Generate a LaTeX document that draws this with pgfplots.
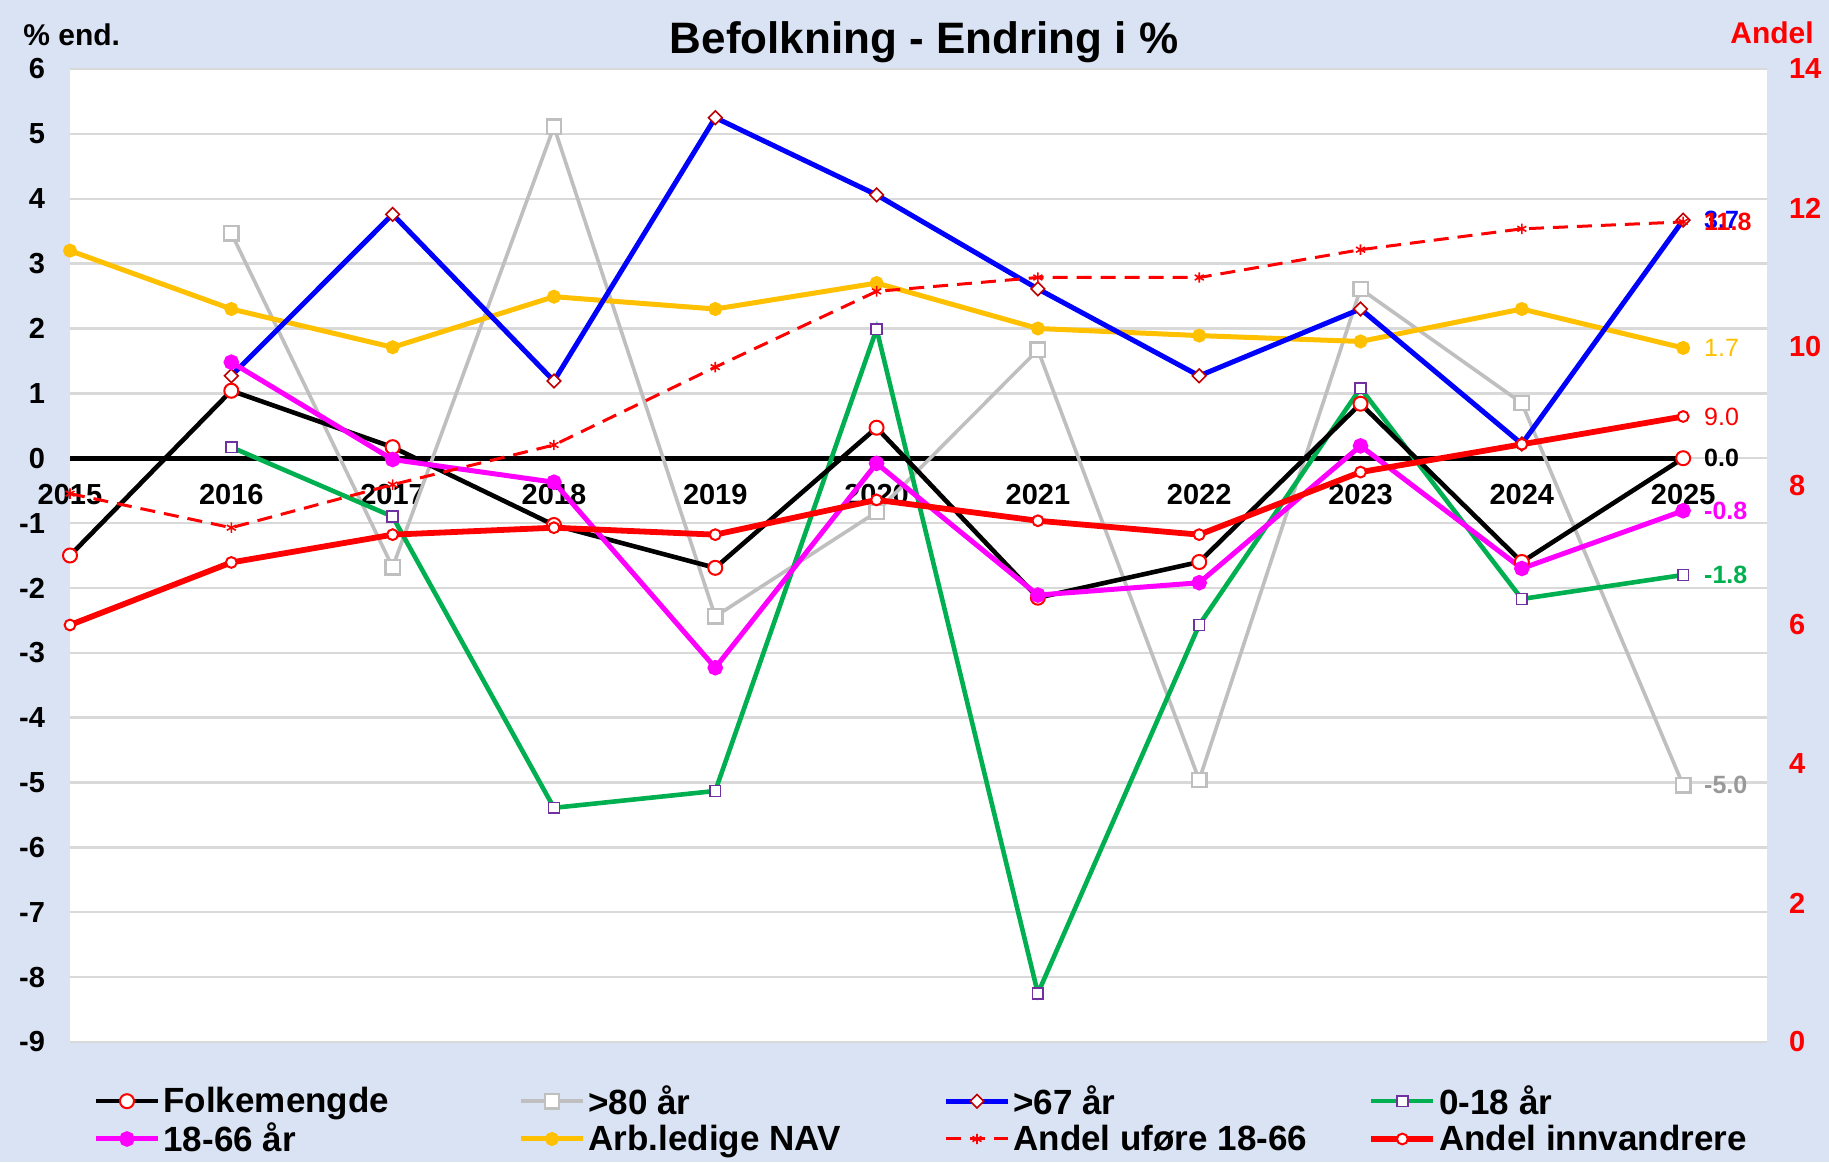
\documentclass[border=0pt]{standalone}
\usepackage{pgfplots}
\pgfplotsset{compat=1.18}
\usepackage{fontspec}
\setmainfont{Liberation Sans}
\definecolor{bgblue}{RGB}{218,227,243}
\definecolor{gridgray}{RGB}{217,217,217}
\definecolor{ggray}{RGB}{191,191,191}
\definecolor{gblue}{RGB}{0,0,255}
\definecolor{ggreen}{RGB}{0,176,80}
\definecolor{gmag}{RGB}{255,0,255}
\definecolor{gyel}{RGB}{255,192,0}
\definecolor{gred}{RGB}{255,0,0}
\definecolor{dred}{RGB}{192,0,0}
\definecolor{gpurple}{RGB}{112,48,160}
\pgfplotsset{
 sfolk/.style={black, line width=2.3pt, mark=*, mark size=3.5pt, mark options={fill=white, draw=gred, line width=1pt, solid}},
 s80/.style={ggray, line width=1.8pt, mark=square*, mark size=3.6pt, mark options={fill=white, draw=ggray, line width=1.2pt, solid}},
 s67/.style={gblue, line width=2.5pt, mark=square*, mark size=2.4pt, mark options={fill=white, draw=dred, line width=0.8pt, rotate=45, solid}},
 s018/.style={ggreen, line width=2.3pt, mark=square*, mark size=2.7pt, mark options={fill=white, draw=gpurple, line width=0.8pt, solid}},
 s1866/.style={gmag, line width=2.5pt, mark=*, mark size=2.6pt, mark options={fill=gmag, draw=gmag, solid}},
 sarb/.style={gyel, line width=2.5pt, mark=*, mark size=2.2pt, mark options={fill=gyel, draw=gyel, solid}},
 sufo/.style={gred, line width=1.5pt, dash pattern=on 7.5pt off 4.5pt, mark=asterisk, mark size=2.6pt, mark options={draw=gred, line width=0.8pt, solid}},
 sinn/.style={gred, line width=2.9pt, mark=*, mark size=2.7pt, mark options={fill=white, draw=gred, line width=1pt, solid}},
 common/.style={
   at={(35pt,60pt)}, anchor=south west,
   scale only axis, width=848.5pt, height=486.5pt,
   xmin=2015, xmax=2025.52, clip=false,
   major tick length=0pt,
   /pgf/number format/assume math mode=true,
   legend image code/.code={\draw[mark repeat=2,mark phase=2] plot coordinates {(0pt,0pt) (15.5pt,0pt) (31pt,0pt)};},
 },
}
\newcommand{\tfont}{\bfseries\fontsize{14.5}{16}\selectfont}
\newcommand{\dfont}{\fontsize{12.5}{14}\selectfont}
\begin{document}
\begin{tikzpicture}
\useasboundingbox (0,0) rectangle (914.5pt,581pt);
\fill[bgblue] (0,0) rectangle (914.5pt,581pt);
\begin{axis}[common,
  ymin=-9, ymax=6,
  axis background/.style={fill=white},
  axis x line*=middle, axis y line*=left,
  hide obscured x ticks=false,
  x axis line style={draw=none},
  y axis line style={draw=none},
  xtick={2015,2016,2017,2018,2019,2020,2021,2022,2023,2024,2025},
  xticklabels={2015,2016,2017,2018,2019,2020,2021,2022,2023,2024,2025},
  xticklabel style={font=\tfont, yshift=-9.5pt},
  ytick={-9,-8,-7,-6,-5,-4,-3,-2,-1,0,1,2,3,4,5,6},
  yticklabel style={font=\tfont, xshift=-9pt},
  ymajorgrids, grid style={gridgray, line width=1.2pt},
]
\addplot[black, line width=2.6pt, forget plot] coordinates {(2015,0)(2025,0)};
\addplot[s80] coordinates {(2016,3.47)(2017,-1.68)(2018,5.11)(2019,-2.44)(2020,-0.83)(2021,1.67)(2022,-4.96)(2023,2.61)(2024,0.85)(2025,-5.04)};
\addplot[sarb] coordinates {(2015,3.20)(2016,2.30)(2017,1.71)(2018,2.49)(2019,2.30)(2020,2.70)(2021,2.00)(2022,1.89)(2023,1.80)(2024,2.30)(2025,1.70)};
\addplot[s67] coordinates {(2016,1.27)(2017,3.76)(2018,1.19)(2019,5.25)(2020,4.06)(2021,2.61)(2022,1.27)(2023,2.30)(2024,0.22)(2025,3.67)};
\addplot[s018] coordinates {(2016,0.17)(2017,-0.90)(2018,-5.39)(2019,-5.13)(2020,1.99)(2021,-8.25)(2022,-2.57)(2023,1.08)(2024,-2.17)(2025,-1.80)};
\addplot[sfolk] coordinates {(2015,-1.50)(2016,1.04)(2017,0.17)(2018,-1.03)(2019,-1.69)(2020,0.47)(2021,-2.15)(2022,-1.60)(2023,0.84)(2024,-1.60)(2025,0.00)};
\addplot[s1866] coordinates {(2016,1.48)(2017,-0.02)(2018,-0.37)(2019,-3.23)(2020,-0.08)(2021,-2.11)(2022,-1.92)(2023,0.19)(2024,-1.70)(2025,-0.81)};
\node[anchor=west, xshift=7pt, text=gblue, font=\dfont\bfseries] at (axis cs:2025,3.67) {3.7};
\node[anchor=west, xshift=7pt, text=gyel, font=\dfont] at (axis cs:2025,1.70) {1.7};
\node[anchor=west, xshift=7pt, text=black, font=\dfont\bfseries] at (axis cs:2025,0.0) {0.0};
\node[anchor=west, xshift=7pt, text=gmag, font=\dfont\bfseries] at (axis cs:2025,-0.81) {-0.8};
\node[anchor=west, xshift=7pt, text=ggreen, font=\dfont\bfseries] at (axis cs:2025,-1.80) {-1.8};
\node[anchor=west, xshift=7pt, text=gray!80, font=\dfont\bfseries] at (axis cs:2025,-5.04) {-5.0};
\end{axis}
\begin{axis}[common,
  ymin=0, ymax=14,
  axis x line=none, axis y line*=right,
  y axis line style={draw=none},
  ytick={0,2,4,6,8,10,12,14},
  yticklabel style={font=\tfont, text=gred, xshift=7.5pt},
  legend columns=4,
  legend cell align=left,
  legend style={at={(0.0136,-0.041)}, anchor=north west, draw=none, fill=none,
    font=\bfseries\fontsize{17.5}{19}\selectfont, column sep=0pt, row sep=0pt,
    inner sep=0pt, nodes={inner sep=1.5pt}},
]
\addlegendimage{sfolk}\addlegendentry{\makebox[176pt][l]{Folkemengde}}
\addlegendimage{s80}\addlegendentry{\makebox[176pt][l]{>80 år}}
\addlegendimage{s67}\addlegendentry{\makebox[176pt][l]{>67 år}}
\addlegendimage{s018}\addlegendentry{\makebox[176pt][l]{0-18 år}}
\addlegendimage{s1866}\addlegendentry{\makebox[176pt][l]{18-66 år}}
\addlegendimage{sarb}\addlegendentry{\makebox[176pt][l]{Arb.ledige NAV}}
\addplot[sufo] coordinates {(2015,7.89)(2016,7.40)(2017,8.02)(2018,8.59)(2019,9.71)(2020,10.80)(2021,11.00)(2022,11.00)(2023,11.40)(2024,11.70)(2025,11.80)};
\addlegendentry{\makebox[176pt][l]{Andel uføre 18-66}}
\addplot[sinn] coordinates {(2015,6.00)(2016,6.90)(2017,7.30)(2018,7.40)(2019,7.30)(2020,7.80)(2021,7.50)(2022,7.30)(2023,8.20)(2024,8.60)(2025,9.00)};
\addlegendentry{\makebox[176pt][l]{Andel innvandrere}}
\node[anchor=west, xshift=7pt, text=gred, font=\dfont\bfseries] at (axis cs:2025,11.80) {11.8};
\node[anchor=west, xshift=7pt, text=gred, font=\dfont] at (axis cs:2025,9.00) {9.0};
\end{axis}
\node[font=\bfseries\fontsize{22}{24}\selectfont] at (462pt,560pt) {Befolkning - Endring i \%};
\node[anchor=west, font=\bfseries\fontsize{15}{17}\selectfont, inner sep=0pt] at (11.5pt,563.5pt) {\% end.};
\node[font=\bfseries\fontsize{15}{17}\selectfont, text=gred] at (886pt,564.5pt) {Andel};
\end{tikzpicture}
\end{document}
